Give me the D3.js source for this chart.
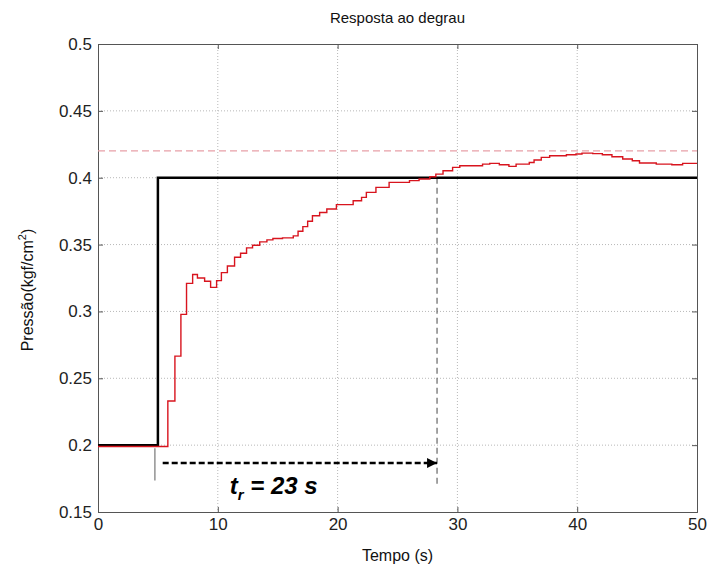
<!DOCTYPE html>
<html><head><meta charset="utf-8">
<script src="https://cdn.jsdelivr.net/npm/d3@7"></script>
<style>body{margin:0;background:#fff}text{font-family:"Liberation Sans",Arial,sans-serif}</style>
</head><body><svg id="c" width="707" height="572"></svg>
<script>
const xTicks = [0,10,20,30,40,50];
const yTicks = [0.15,0.2,0.25,0.3,0.35,0.4,0.45,0.5];
const yTickLabels = ["0.15","0.2","0.25","0.3","0.35","0.4","0.45","0.5"];
// step input (reference)
const stepTime = [0, 5, 5, 50];
const stepValue = [0.2, 0.2, 0.4, 0.4];
// measured response (staircase, step-after)
const respTime = [0,5.83,6.42,6.92,7.39,7.9,8.3,8.9,9.4,9.9,10.3,10.8,11.4,11.9,12.4,12.9,13.5,14.1,14.6,15.4,16.3,16.7,17.1,17.5,17.9,18.5,19.1,19.9,21.3,22.0,22.4,23.2,24.3,26.0,26.8,27.7,28.2,28.8,29.6,30.2,32.1,32.7,33.5,34.3,34.9,36.0,36.4,37.0,37.7,39.1,39.9,40.4,41.3,42.1,42.9,43.8,44.6,45.2,46.6,47.9,48.8,50];
const respValue = [0.199,0.233,0.2666,0.2978,0.321,0.3276,0.325,0.3226,0.318,0.323,0.329,0.334,0.3405,0.3435,0.3475,0.3495,0.352,0.3535,0.3545,0.355,0.3565,0.36,0.3634,0.3674,0.3716,0.374,0.3766,0.3799,0.3828,0.3853,0.389,0.3928,0.3965,0.3978,0.399,0.4007,0.4027,0.4052,0.4077,0.409,0.4102,0.4107,0.4097,0.4085,0.4102,0.4114,0.4132,0.4152,0.4164,0.4172,0.4177,0.4184,0.418,0.4172,0.4157,0.414,0.4127,0.411,0.4102,0.4097,0.4107,0.4107];
const bandValue = [0.42];
const riseEnd = [28.3];
const arrowT = [5.4, 28.3];
const arrowV = [0.1866];
const startMark = [4.75, 0.2, 0.1735];
const vlineV = [0.4, 0.17];
const annot = {text:"t", sub:"r", rest:" = 23 s", t:11.0, v:0.1635};

const svg = d3.select("#c");
const L=98,R=697,T=44,B=512;
const x = d3.scaleLinear().domain([0,50]).range([L,R]);
const y = d3.scaleLinear().domain([0.15,0.5]).range([B,T]);

// grid
svg.append("g").selectAll("line").data(xTicks.slice(1,-1)).join("line")
 .attr("x1",d=>x(d)).attr("x2",d=>x(d)).attr("y1",T).attr("y2",B)
 .attr("stroke","#b8b8b8").attr("stroke-dasharray","1,2").attr("stroke-width",1);
svg.append("g").selectAll("line").data(yTicks.slice(1,-1)).join("line")
 .attr("y1",d=>y(d)).attr("y2",d=>y(d)).attr("x1",L).attr("x2",R)
 .attr("stroke","#b8b8b8").attr("stroke-dasharray","1,2").attr("stroke-width",1);

// axes
const ax = d3.axisBottom(x).tickValues(xTicks).tickSize(-5).tickPadding(6).tickFormat(d3.format("d"));
svg.append("g").attr("transform",`translate(0,${B})`).call(ax);
const axT = d3.axisTop(x).tickValues(xTicks).tickSize(-5).tickFormat("");
svg.append("g").attr("transform",`translate(0,${T})`).call(axT);
const ay = d3.axisLeft(y).tickValues(yTicks).tickSize(-5).tickPadding(6).tickFormat((d,i)=>yTickLabels[i]);
svg.append("g").attr("transform",`translate(${L},0)`).call(ay);
const ayR = d3.axisRight(y).tickValues(yTicks).tickSize(-5).tickFormat("");
svg.append("g").attr("transform",`translate(${R},0)`).call(ayR);
svg.selectAll(".domain").attr("stroke","#555");
svg.selectAll(".tick line").attr("stroke","#555");
svg.selectAll(".tick text").attr("font-size",17).attr("fill","#222").attr("font-family","'Liberation Sans',Arial,sans-serif");

// pink dashed band
svg.append("line").attr("x1",x(0)).attr("x2",x(50)).attr("y1",y(bandValue[0])).attr("y2",y(bandValue[0]))
 .attr("stroke","#e8a0a8").attr("stroke-width",1.3).attr("stroke-dasharray","7,4");

// rise-time vertical dashed line
svg.append("line").attr("x1",x(riseEnd[0])).attr("x2",x(riseEnd[0])).attr("y1",y(vlineV[0])).attr("y2",y(vlineV[1]))
 .attr("stroke","#666").attr("stroke-width",1.2).attr("stroke-dasharray","6,4");

// step input
const line = d3.line().x(d=>x(d[0])).y(d=>y(d[1]));
svg.append("path").datum(stepTime.map((t,i)=>[t,stepValue[i]])).attr("d",line)
 .attr("fill","none").attr("stroke","#000").attr("stroke-width",2.5);

// response
const sline = d3.line().curve(d3.curveStepAfter).x(d=>x(d[0])).y(d=>y(d[1]));
svg.append("path").datum(respTime.map((t,i)=>[t,respValue[i]])).attr("d",sline)
 .attr("fill","none").attr("stroke","#d8141e").attr("stroke-width",1.4);

// start marker
svg.append("line").attr("x1",x(startMark[0])).attr("x2",x(startMark[0])).attr("y1",y(startMark[1])+3).attr("y2",y(startMark[2]))
 .attr("stroke","#777").attr("stroke-width",1.2);

// arrow
svg.append("defs").append("marker").attr("id","ah").attr("viewBox","0 0 10 10").attr("refX",10).attr("refY",5)
 .attr("markerWidth",5).attr("markerHeight",4).attr("markerUnits","strokeWidth").attr("orient","auto")
 .append("path").attr("d","M0,0L10,5L0,10Z").attr("fill","#000");
svg.append("line").attr("x1",x(arrowT[0])).attr("x2",x(arrowT[1])).attr("y1",y(arrowV[0])).attr("y2",y(arrowV[0]))
 .attr("stroke","#000").attr("stroke-width",2.5).attr("stroke-dasharray","6,3").attr("marker-end","url(#ah)");

// annotation
const at = svg.append("text").attr("x",x(annot.t)).attr("y",y(annot.v))
 .attr("font-size",24).attr("font-weight","bold").attr("font-style","italic").attr("fill","#000");
at.append("tspan").text(annot.text);
at.append("tspan").attr("font-size",15).attr("dy",6).text(annot.sub);
at.append("tspan").attr("dy",-6).text(annot.rest);

// titles
svg.append("text").attr("x",(L+R)/2).attr("y",23).attr("text-anchor","middle").attr("font-size",15).attr("fill","#111").text("Resposta ao degrau");
svg.append("text").attr("x",(L+R)/2).attr("y",561).attr("text-anchor","middle").attr("font-size",16).attr("fill","#111").text("Tempo (s)");
const yl = svg.append("text").attr("transform",`translate(33,${(T+B)/2+12}) rotate(-90)`).attr("text-anchor","middle").attr("font-size",16).attr("fill","#111");
yl.append("tspan").text("Pressão(kgf/cm");
yl.append("tspan").attr("font-size",11).attr("dy",-7).text("2");
yl.append("tspan").attr("dy",7).text(")");
</script></body></html>
